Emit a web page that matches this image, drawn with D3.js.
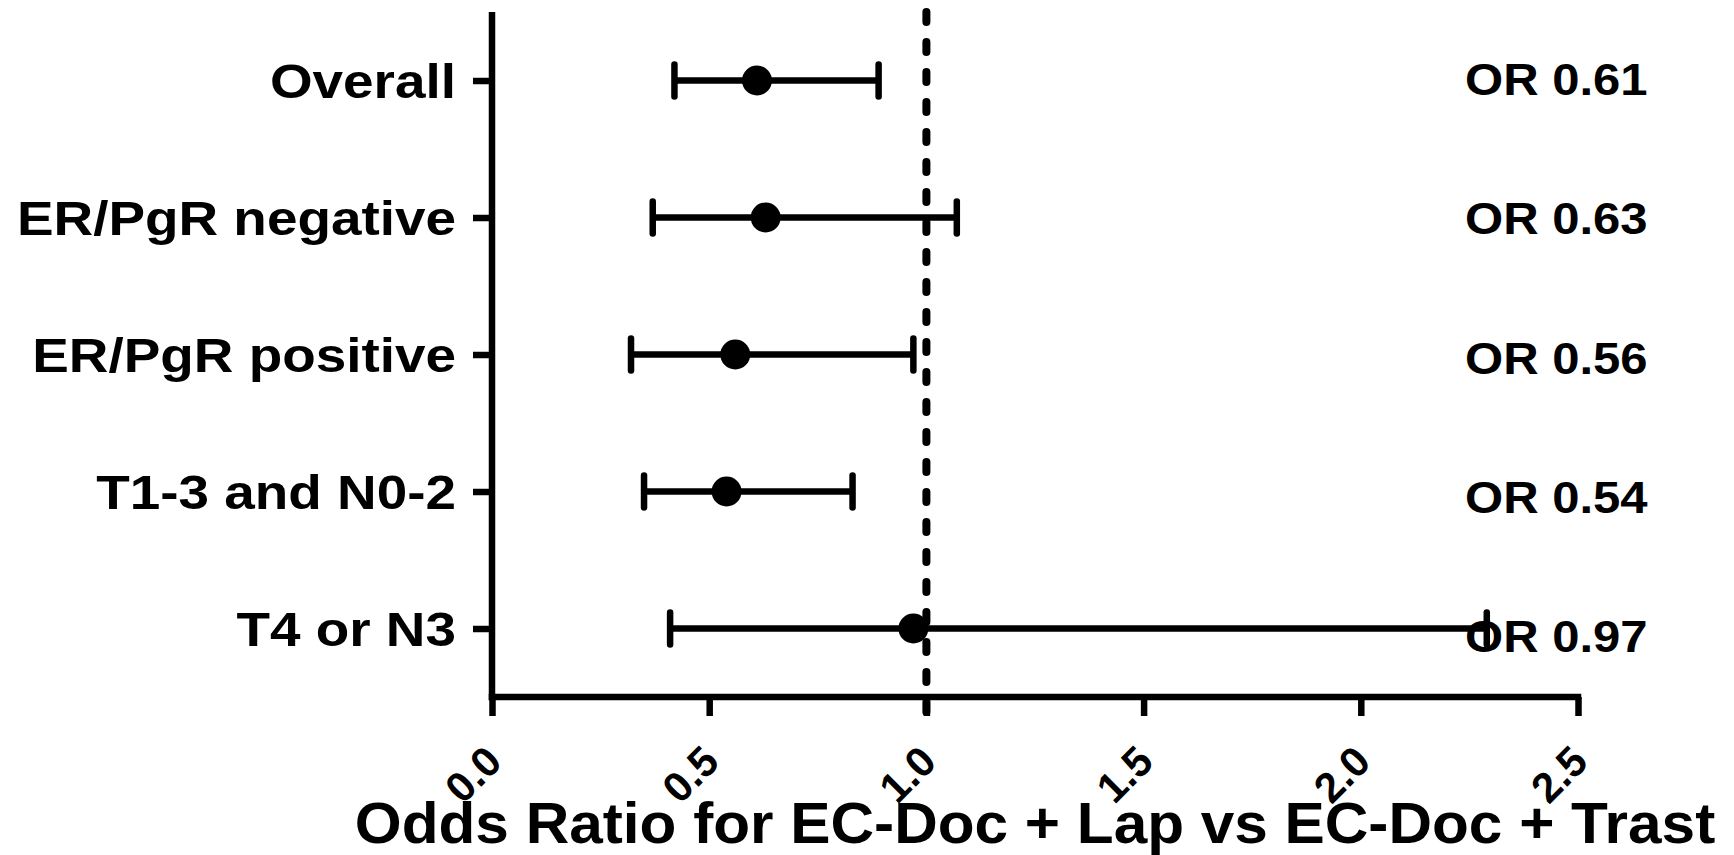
<!DOCTYPE html>
<html>
<head>
<meta charset="utf-8">
<script src="https://cdn.jsdelivr.net/npm/d3@7"></script>
<style>
  body { margin: 0; background: #fff; }
  text { font-family: "Liberation Sans", Arial, sans-serif; font-weight: bold; fill: #000; }
</style>
</head>
<body>
<script>
// subgroups, top to bottom
var categories = ["Overall", "ER/PgR negative", "ER/PgR positive", "T1-3 and N0-2", "T4 or N3"];
var oddsRatio = [0.61, 0.63, 0.56, 0.54, 0.97];
var ciLower = [0.42, 0.37, 0.32, 0.35, 0.41];
var ciUpper = [0.89, 1.07, 0.97, 0.83, 2.29];
var orLabels = ["OR 0.61", "OR 0.63", "OR 0.56", "OR 0.54", "OR 0.97"];
var xTicks = [0, 0.5, 1.0, 1.5, 2.0, 2.5];
var xTitle = "Odds Ratio for EC-Doc + Lap vs EC-Doc + Trast";

var width = 1734,
    height = 855;
var plotLeft = 492, plotRight = 1578, plotTop = 12, plotBottom = 697;
var lw = 6.5;

var svg = d3.select("body").append("svg")
  .attr("width", width)
  .attr("height", height);

var x = d3.scaleLinear()
  .domain([0, 2.5])
  .range([plotLeft, plotRight]);

var y = d3.scalePoint()
  .domain(categories)
  .range([plotTop, plotBottom])
  .padding(0.5);

// OR text labels sit on their own slightly wider grid
var yLab = d3.scalePoint()
  .domain(categories)
  .range([95, 652]);

var data = categories.map(function(c, i){
  return {name: c, or: oddsRatio[i], lo: ciLower[i], hi: ciUpper[i], label: orLabels[i]};
});

// y axis
var yAxis = svg.append("g")
  .attr("transform", "translate(" + plotLeft + ",0)")
  .call(d3.axisLeft(y).tickSize(19).tickFormat(""));
yAxis.select(".domain").remove();
yAxis.selectAll("line").attr("stroke", "#000").attr("stroke-width", lw);
svg.append("line")
  .attr("x1", plotLeft).attr("x2", plotLeft)
  .attr("y1", plotTop).attr("y2", plotBottom + lw / 2)
  .attr("stroke", "#000").attr("stroke-width", lw);

svg.selectAll(".rowlab")
  .data(data)
  .enter().append("text")
  .attr("class", "rowlab")
  .attr("text-anchor", "end")
  .attr("font-size", 49)
  .attr("transform", function(d){ return "translate(" + (plotLeft - 36) + "," + (y(d.name) + 17) + ") scale(1.12,1)"; })
  .text(function(d){ return d.name; });

// x axis
var xAxis = svg.append("g")
  .attr("transform", "translate(0," + plotBottom + ")")
  .call(d3.axisBottom(x).tickValues(xTicks).tickSize(19).tickSizeOuter(0).tickFormat(""));
xAxis.select(".domain").attr("stroke", "#000").attr("stroke-width", lw)
  .attr("d", "M" + (plotLeft - lw / 2) + ",0H" + (plotRight + lw / 2));
xAxis.selectAll("line").attr("stroke", "#000").attr("stroke-width", lw);

svg.selectAll(".xlab")
  .data(xTicks)
  .enter().append("text")
  .attr("class", "xlab")
  .attr("text-anchor", "end")
  .attr("font-size", 42)
  .attr("transform", function(d){ return "translate(" + (x(d) + 12) + "," + (plotBottom + 67) + ") rotate(-45)"; })
  .text(function(d){ return d3.format(".1f")(d); });

svg.append("text")
  .attr("text-anchor", "middle")
  .attr("font-size", 58)
  .attr("transform", "translate(" + ((plotLeft + plotRight) / 2) + ",843) scale(1.04,1)")
  .text(xTitle);

// reference line at OR = 1
svg.append("line")
  .attr("x1", x(1)).attr("x2", x(1))
  .attr("y1", 12).attr("y2", 714)
  .attr("stroke", "#000")
  .attr("stroke-width", 8)
  .attr("stroke-linecap", "round")
  .attr("stroke-dasharray", "10 20");

// error bars
var rows = svg.selectAll(".row")
  .data(data)
  .enter().append("g")
  .attr("class", "row");

rows.append("line")
  .attr("x1", function(d){ return x(d.lo); })
  .attr("x2", function(d){ return x(d.hi); })
  .attr("y1", function(d){ return y(d.name); })
  .attr("y2", function(d){ return y(d.name); })
  .attr("stroke", "#000").attr("stroke-width", lw);

rows.selectAll(".cap")
  .data(function(d){ return [{v: d.lo, n: d.name}, {v: d.hi, n: d.name}]; })
  .enter().append("line")
  .attr("class", "cap")
  .attr("x1", function(d){ return x(d.v); })
  .attr("x2", function(d){ return x(d.v); })
  .attr("y1", function(d){ return y(d.n) - 16; })
  .attr("y2", function(d){ return y(d.n) + 16; })
  .attr("stroke", "#000").attr("stroke-width", lw)
  .attr("stroke-linecap", "round");

rows.append("circle")
  .attr("cx", function(d){ return x(d.or); })
  .attr("cy", function(d){ return y(d.name); })
  .attr("r", 15)
  .attr("fill", "#000");

svg.selectAll(".orlab")
  .data(data)
  .enter().append("text")
  .attr("class", "orlab")
  .attr("font-size", 45)
  .attr("transform", function(d){ return "translate(1465," + yLab(d.name) + ") scale(1.09,1)"; })
  .text(function(d){ return d.label; });
</script>
</body>
</html>
